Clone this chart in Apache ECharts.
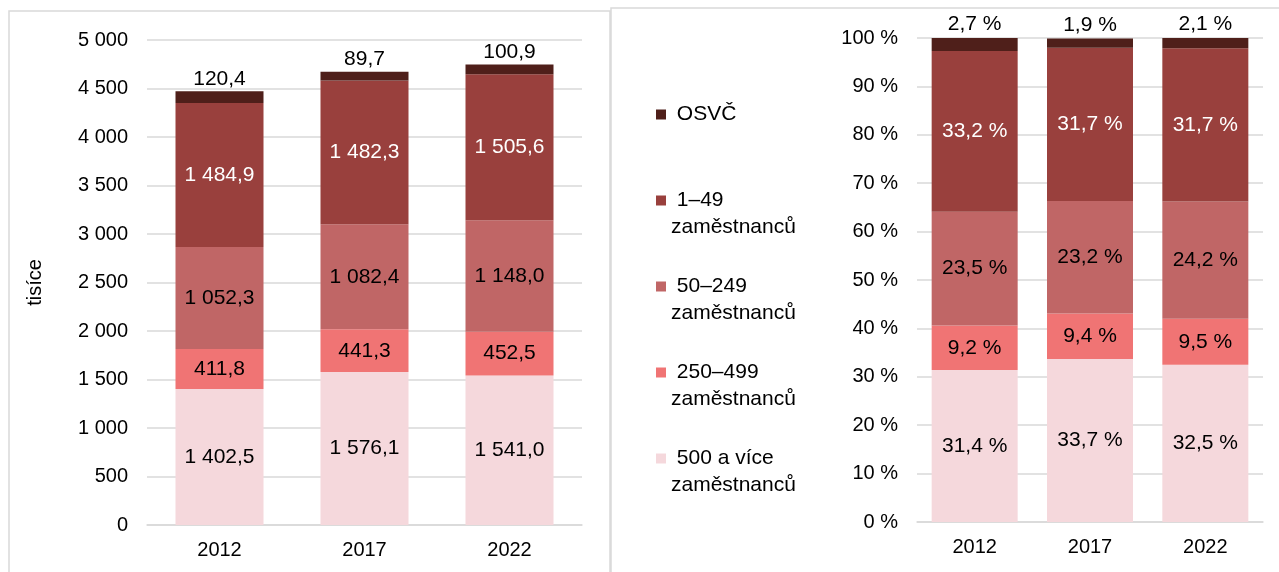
<!DOCTYPE html>
<html>
<head>
<meta charset="utf-8">
<script src="https://cdn.jsdelivr.net/npm/echarts@6/dist/echarts.min.js"></script>
<style>
html, body { margin: 0; padding: 0; background: #fff; }
#chart { width: 1279px; height: 572px; }
</style>
</head>
<body>
<div id="chart"></div>
<script>
// kategorie a názvy skupin
const years = ['2012', '2017', '2022'];
const groupNames = ['500 a více zaměstnanců', '250–499 zaměstnanců', '50–249 zaměstnanců', '1–49 zaměstnanců', 'OSVČ'];
const groupColors = ['#f5d8dc', '#f07474', '#c06666', '#99403d', '#4f1f1a'];

// absolutní počty (tisíce)
const abs500 = [1402.5, 1576.1, 1541.0];
const abs250 = [411.8, 441.3, 452.5];
const abs50 = [1052.3, 1082.4, 1148.0];
const abs1 = [1484.9, 1482.3, 1505.6];
const absOsvc = [120.4, 89.7, 100.9];

// podíly (%)
const pct500 = [31.4, 33.7, 32.5];
const pct250 = [9.2, 9.4, 9.5];
const pct50 = [23.5, 23.2, 24.2];
const pct1 = [33.2, 31.7, 31.7];
const pctOsvc = [2.7, 1.9, 2.1];

const absData = [abs500, abs250, abs50, abs1, absOsvc];
const pctData = [pct500, pct250, pct50, pct1, pctOsvc];

const FONT = 'Liberation Sans, Arial, sans-serif';

function thousands(n) {
    return String(n).replace(/\B(?=(\d{3})+(?!\d))/g, ' ');
}
function fmtAbs(v) {
    let s = v.toFixed(1).split('.');
    return thousands(s[0]) + ',' + s[1];
}
function fmtPct(v) {
    return v.toFixed(1).replace('.', ',') + ' %';
}

let series = [];
for (let i = 0; i < 5; i++) {
    let isTop = i == 4;
    let labelColor = i == 3 ? '#ffffff' : '#000000';
    series.push({
        name: groupNames[i],
        type: 'bar',
        stack: 'abs',
        xAxisIndex: 0,
        yAxisIndex: 0,
        barWidth: 88,
        itemStyle: { color: groupColors[i] },
        label: {
            show: true,
            position: isTop ? 'top' : 'inside',
            distance: 2,
            color: labelColor,
            fontSize: 21,
            fontFamily: FONT,
            formatter: (p) => fmtAbs(p.value)
        },
        data: absData[i]
    });
    series.push({
        name: groupNames[i],
        type: 'bar',
        stack: 'pct',
        xAxisIndex: 1,
        yAxisIndex: 1,
        barWidth: 86,
        itemStyle: { color: groupColors[i] },
        label: {
            show: true,
            position: isTop ? 'top' : 'inside',
            distance: 3,
            color: labelColor,
            fontSize: 21,
            fontFamily: FONT,
            formatter: (p) => fmtPct(p.value)
        },
        data: pctData[i]
    });
}

// legenda shora dolů
let legendData = [];
for (let i = 4; i >= 0; i--) {
    legendData.push({ name: groupNames[i] });
}

const axisCommon = {
    axisTick: { show: false },
    axisLine: { show: false },
    splitLine: { show: true, lineStyle: { color: '#d9d9d9', width: 1.5 } },
    axisLabel: { color: '#000', fontSize: 20, fontFamily: FONT, margin: 19 }
};
const catCommon = {
    type: 'category',
    data: years,
    axisTick: { show: false },
    axisLine: { show: true, lineStyle: { color: '#d9d9d9', width: 1.5 } },
    axisLabel: { color: '#000', fontSize: 20, fontFamily: FONT, margin: 15 }
};

let myChart = echarts.init(document.getElementById('chart'));
myChart.setOption({
    animation: false,
    textStyle: { fontFamily: FONT },
    graphic: [
        {
            type: 'rect',
            shape: { x: 9, y: 11, width: 601, height: 600 },
            style: { fill: 'none', stroke: '#d9d9d9', lineWidth: 1.5 },
            z: -1
        },
        {
            type: 'rect',
            shape: { x: 611, y: 8, width: 700, height: 600 },
            style: { fill: 'none', stroke: '#d9d9d9', lineWidth: 1.5 },
            z: -1
        }
    ],
    legend: {
        orient: 'vertical',
        left: 656,
        top: 74,
        padding: 0,
        itemGap: 5,
        itemWidth: 10,
        itemHeight: 10,
        icon: 'rect',
        selectedMode: false,
        data: legendData,
        // tři řádky: ikona zůstane u prvního viditelného řádku
        formatter: (name) => {
            if (name == 'OSVČ') return ' \n OSVČ\n ';
            let idx = name.indexOf(' zam');
            return ' \n ' + name.slice(0, idx) + '\n' + name.slice(idx + 1);
        },
        textStyle: {
            color: '#000',
            fontSize: 21,
            fontFamily: FONT,
            lineHeight: 27
        }
    },
    grid: [
        { left: 147, right: 697, top: 40, bottom: 47 },
        { left: 917, right: 16, top: 38, bottom: 50 }
    ],
    xAxis: [
        Object.assign({ gridIndex: 0 }, catCommon),
        Object.assign({ gridIndex: 1 }, catCommon)
    ],
    yAxis: [
        Object.assign({}, axisCommon, {
            gridIndex: 0,
            type: 'value',
            min: 0,
            max: 5000,
            interval: 500,
            name: 'tisíce',
            nameLocation: 'middle',
            nameRotate: 90,
            nameGap: 102,
            nameTextStyle: { color: '#000', fontSize: 20, fontFamily: FONT },
            axisLabel: Object.assign({}, axisCommon.axisLabel, {
                formatter: (v) => thousands(v)
            })
        }),
        Object.assign({}, axisCommon, {
            gridIndex: 1,
            type: 'value',
            min: 0,
            max: 100,
            interval: 10,
            axisLabel: Object.assign({}, axisCommon.axisLabel, {
                formatter: '{value} %'
            })
        })
    ],
    series: series
});
</script>
</body>
</html>
